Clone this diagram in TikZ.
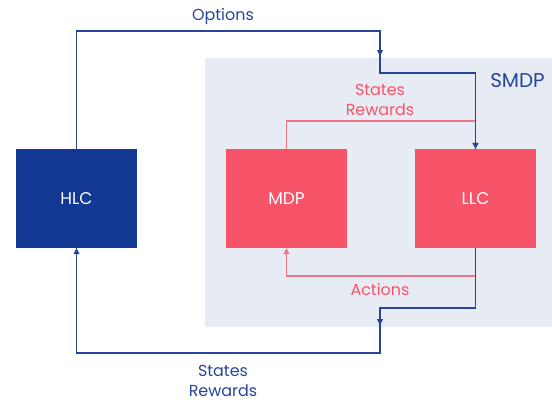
\documentclass[tikz,border=0pt]{standalone}
\usepackage{fontspec}
\setmainfont{Poppins}
\usetikzlibrary{arrows.meta}
\definecolor{hlcblue}{HTML}{123893}
\definecolor{linkblue}{HTML}{26459A}
\definecolor{boxred}{HTML}{F7546A}
\definecolor{linkred}{HTML}{F27488}
\definecolor{smdpbg}{HTML}{E7EBF4}
\tikzset{
  blockbox/.style={minimum width=121bp, minimum height=99bp, inner sep=0pt, text=white, font=\fontsize{17}{20}\selectfont},
  bluelink/.style={draw=linkblue, line width=1.1bp},
  redlink/.style={draw=linkred, line width=1.1bp},
  tip/.style={-{Triangle[width=6bp,length=6bp]}},
  lbl/.style={font=\fontsize{16}{20}\selectfont, align=center, inner sep=0pt},
}
\begin{document}
\begin{tikzpicture}[x=1bp,y=-1bp]
\useasboundingbox (0,0) rectangle (552,401);
\fill[smdpbg] (205,58) rectangle (552,327);
\node[blockbox, fill=hlcblue] (hlc) at (76.5,198.5) {HLC};
\node[blockbox, fill=boxred] (mdp) at (286.5,198.5) {MDP};
\node[blockbox, fill=boxred] (llc) at (475.5,198.5) {LLC};
\coordinate (o1) at (380,31);
\coordinate (o2) at (380,73);
\coordinate (b1) at (380,308);
\coordinate (b2) at (380,353);
% red links
\draw[redlink, tip] (mdp.north) |- (llc.north |- 0,121) -- (llc.north);
\draw[redlink, tip] (llc.south) |- (mdp.south |- 0,276) -- (mdp.south);
% blue links
\draw[bluelink] (hlc.north) |- (o1) -- (o2) -| (llc.north);
\draw[bluelink, tip] (o1) -- (380,56);
\draw[bluelink, tip] (o2 -| llc.north) -- (llc.north);
\draw[bluelink] (llc.south) |- (b1) -- (b2) -| (hlc.south);
\draw[bluelink, tip] (b1) -- (380,325);
\draw[bluelink, tip] (hlc.south |- b2) -- (hlc.south);
% labels
\node[lbl, text=linkblue] (optl) at (223,16.5) {Options};
\node[lbl, text=linkblue, font=\fontsize{20}{24}\selectfont] (smdpl) at (517.5,81) {SMDP};
\node[lbl, text=boxred] (srr) at (380,100) {States\\Rewards};
\node[lbl, text=boxred] (actl) at (380,289) {Actions};
\node[lbl, text=linkblue] (srb) at (223,381) {States\\Rewards};
\end{tikzpicture}
\end{document}
